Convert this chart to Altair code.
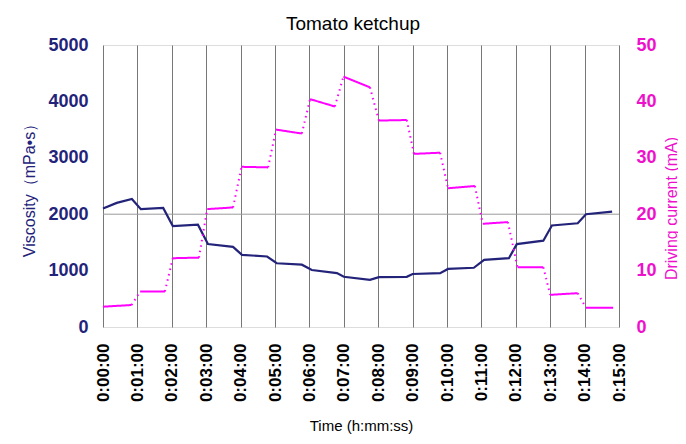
import altair as alt
import pandas as pd

# Viscosity (mPa·s) readings, time in minutes
visc_t = [0.0, 0.4, 0.84, 1.1, 1.75, 2.03, 2.76, 3.05, 3.78, 4.04, 4.77, 5.05, 5.78, 6.07, 6.8,
          7.0, 7.76, 8.02, 8.83, 9.0, 9.8, 10.03, 10.78, 11.08, 11.8, 12.03, 12.8, 13.05, 13.8,
          14.04, 14.8]
visc_v = [2100, 2200, 2270, 2090, 2110, 1790, 1815, 1470, 1420, 1280, 1250, 1130, 1105, 1010, 955,
          890, 835, 885, 890, 940, 955, 1030, 1050, 1190, 1220, 1470, 1530, 1800, 1840,
          2000, 2045]

# Driving current (mA) steps: start/end time and value of each plateau
cur_start_t = [0.0, 1.08, 2.03, 3.03, 4.03, 5.03, 6.02, 6.99, 8.02, 9.04, 10.03, 11.04, 12.05, 13.0, 14.04]
cur_end_t = [0.83, 1.8, 2.79, 3.78, 4.8, 5.78, 6.74, 7.76, 8.83, 9.8, 10.81, 11.77, 12.8, 13.8, 14.83]
cur_start_v = [3.6, 6.3, 12.2, 20.9, 28.4, 35.0, 40.4, 44.4, 36.6, 30.7, 24.6, 18.3, 10.6, 5.7, 3.4]
cur_end_v = [3.9, 6.3, 12.3, 21.2, 28.3, 34.3, 39.1, 42.5, 36.7, 30.9, 25.0, 18.6, 10.6, 6.0, 3.4]

grid_2000 = [2000]
x_ticks = list(range(16))

NAVY = "#23237a"
MAG = "#ff00ff"
MAG_LABEL = "#ee11cc"
FONT = "Liberation Sans"

visc_df = pd.DataFrame({"t": visc_t, "v": visc_v})
rows = []
n = len(cur_start_t)
for i in range(n):
    rows.append({"t": cur_start_t[i], "c": cur_start_v[i], "seg": f"s{i}", "kind": "step"})
    rows.append({"t": cur_end_t[i], "c": cur_end_v[i], "seg": f"s{i}", "kind": "step"})
    if i < n - 1:
        rows.append({"t": cur_end_t[i], "c": cur_end_v[i], "seg": f"d{i}", "kind": "trans"})
        rows.append({"t": cur_start_t[i + 1], "c": cur_start_v[i + 1], "seg": f"d{i}", "kind": "trans"})
cur_df = pd.DataFrame(rows)

x_axis = alt.Axis(
    values=x_ticks,
    tickCount=40,
    labelExpr="'0:' + (datum.value < 10 ? '0' : '') + datum.value + ':00'",
    labelAngle=270,
    labelOverlap=False,
    labelFontSize=17,
    labelFontWeight="bold",
    labelColor="black",
    labelFont=FONT,
    labelPadding=16,
    ticks=False,
    domain=False,
    grid=True,
    gridColor="#777777",
    gridWidth=1,
    title="Time (h:mm:ss)",
    titleFont=FONT,
    titleFontSize=15,
    titleFontWeight="normal",
    titleColor="black",
    titlePadding=17,
)
x_scale = alt.Scale(domain=[0, 15], nice=False, zero=False)


def x_enc():
    return alt.X("t:Q", scale=x_scale, axis=x_axis)


y_left_scale = alt.Scale(domain=[0, 5000], nice=False)
y_left_axis = alt.Axis(
    values=[0, 1000, 2000, 3000, 4000, 5000],
    format="d",
    grid=False,
    ticks=False,
    domain=False,
    labelFont=FONT,
    labelFontSize=18,
    labelFontWeight="bold",
    labelColor=NAVY,
    labelPadding=15,
    title="Viscosity（mPa•s）",
    titleFont=FONT,
    titleFontSize=16,
    titleFontWeight="normal",
    titleColor=NAVY,
    titlePadding=10,
)

rule = alt.Chart(pd.DataFrame({"v": grid_2000})).mark_rule(color="#9a9a9a", strokeWidth=1).encode(
    y=alt.Y("v:Q", scale=y_left_scale, axis=y_left_axis)
)

visc_line = alt.Chart(visc_df).mark_line(color=NAVY, strokeWidth=2.2).encode(
    x=x_enc(),
    y=alt.Y("v:Q", scale=y_left_scale, axis=y_left_axis),
)

left = alt.layer(rule, visc_line)

cur_line = alt.Chart(cur_df).mark_line(color=MAG, strokeWidth=2).encode(
    x=x_enc(),
    y=alt.Y(
        "c:Q",
        scale=alt.Scale(domain=[0, 50], nice=False),
        axis=alt.Axis(
            orient="right",
            values=[0, 10, 20, 30, 40, 50],
            grid=False,
            ticks=False,
            domain=False,
            labelFont=FONT,
            labelFontSize=18,
            labelFontWeight="bold",
            labelColor=MAG_LABEL,
            labelPadding=17,
            title="Driving current (mA)",
            titleFont=FONT,
            titleFontSize=16,
            titleFontWeight="normal",
            titleColor=MAG_LABEL,
            titleAngle=270,
            titleAlign="center",
            titleBaseline="alphabetic",
            titleX=57,
            titleY=163,
        ),
    ),
    detail="seg:N",
    strokeDash=alt.StrokeDash(
        "kind:N",
        scale=alt.Scale(domain=["step", "trans"], range=[[1, 0], [1.5, 4]]),
        legend=None,
    ),
)

chart = (
    alt.layer(left, cur_line)
    .resolve_scale(y="independent")
    .properties(
        width=516,
        height=282,
        title=alt.TitleParams(
            "Tomato ketchup",
            font=FONT,
            fontSize=19,
            fontWeight="normal",
            color="black",
            offset=2,
            dx=-8,
        ),
        autosize=alt.AutoSizeParams(type="none"),
        padding={"left": 95, "top": 37, "right": 59, "bottom": 109},
    )
    .configure_view(stroke="#444444", strokeWidth=1)
    .configure(background="white")
)

chart.save("out.html", embed_options={"renderer": "svg", "actions": False})
